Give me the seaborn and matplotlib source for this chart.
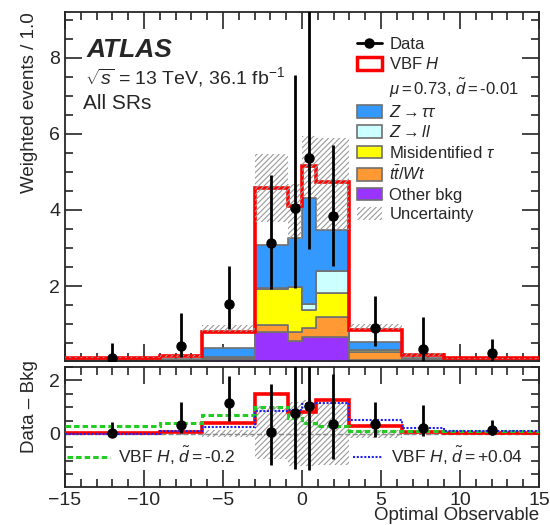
import numpy as np
import pandas as pd
import seaborn as sns
import matplotlib.pyplot as plt
from matplotlib.patches import Patch
from matplotlib.lines import Line2D
from matplotlib.ticker import MultipleLocator

# bin edges of the Optimal Observable
edges = [-15, -9, -6.3, -3, -0.9, 0, 0.9, 3, 6.3, 9, 15]

# background components per bin
z_tautau = [0.02, 0.03, 0.25, 1.13, 1.29, 2.78, 1.07, 0.21, 0.045, 0.03]
z_ll = [0.005, 0.005, 0.01, 0.01, 0.01, 0.18, 0.57, 0.01, 0.005, 0.005]
fakes = [0.015, 0.015, 0.02, 0.96, 1.17, 0.46, 0.63, 0.05, 0.02, 0.015]
top = [0.01, 0.01, 0.02, 0.18, 0.25, 0.24, 0.53, 0.21, 0.02, 0.01]
other = [0.02, 0.02, 0.08, 0.79, 0.55, 0.66, 0.66, 0.06, 0.03, 0.02]

# signal (best fit and two alternatives)
vbf_fit = [0.05, 0.08, 0.41, 1.5, 0.82, 0.82, 1.26, 0.3, 0.08, 0.03]
vbf_dm02 = [0.31, 0.4, 0.69, 0.99, 0.59, 0.4, 0.3, 0.11, 0.125, 0.125]
vbf_dp004 = [0.01, 0.11, 0.27, 0.87, 0.9, 1.1, 1.15, 0.53, 0.21, 0.12]

# data with asymmetric errors
data = [0.12, 0.43, 1.52, 3.13, 4.05, 5.36, 3.84, 0.9, 0.34, 0.23]
data_lo = [0.12, 0.3, 0.66, 1.21, 2.1, 2.4, 1.32, 0.48, 0.3, 0.19]
data_hi = [0.38, 0.85, 1.01, 1.79, 3.5, 4.2, 1.87, 0.85, 0.85, 0.38]

# uncertainty band (top panel, absolute) and bottom panel band
unc_lo = [0.1, 0.13, 0.79, 3.68, 3.24, 4.35, 3.46, 0.84, 0.17, 0.09]
unc_hi = [0.13, 0.19, 0.97, 5.47, 4.68, 5.95, 5.9, 1.0, 0.23, 0.11]
diff_unc_lo = [-0.03, -0.05, -0.12, -0.95, -1.2, -1.2, -1.15, -0.15, -0.05, -0.03]
diff_unc_hi = [0.03, 0.05, 0.15, 1.03, 1.2, 1.25, 1.15, 0.15, 0.05, 0.03]

names = ['ztt', 'zll', 'fake', 'top', 'other']
palette = {'ztt': '#3399ff', 'zll': '#ccffff', 'fake': '#ffff00',
           'top': '#ff9933', 'other': '#9933ff'}

#%%
sns.set_style("ticks")
plt.rcParams['font.family'] = ['Liberation Sans', 'DejaVu Sans']
plt.rcParams['mathtext.fontset'] = 'custom'
plt.rcParams['mathtext.rm'] = 'Liberation Sans'
plt.rcParams['mathtext.it'] = 'Liberation Sans:italic'
plt.rcParams['mathtext.bf'] = 'Liberation Sans:bold'
plt.rcParams['hatch.color'] = '#9a9a9a'
plt.rcParams['hatch.linewidth'] = 0.8

edges_a = np.array(edges)
centers = 0.5 * (edges_a[1:] + edges_a[:-1])
bkg = np.array(z_tautau) + np.array(z_ll) + np.array(fakes) + np.array(top) + np.array(other)
total = bkg + np.array(vbf_fit)

df = pd.DataFrame({
    'x': np.tile(centers, 5),
    'w': np.concatenate([z_tautau, z_ll, fakes, top, other]),
    'proc': np.repeat(names, len(centers)),
})

fig = plt.figure(figsize=(5.5, 5.25), dpi=100)
ax = fig.add_axes([0.1182, 0.3124, 0.8618, 0.6648])
ax2 = fig.add_axes([0.1182, 0.0724, 0.8618, 0.2286])

sns.histplot(data=df, x='x', weights='w', hue='proc', hue_order=names, bins=edges,
             multiple='stack', element='step', palette=palette, alpha=1,
             edgecolor='#707070', linewidth=1.2, legend=False, ax=ax)
ax.stairs(total, edges, baseline=None, color='red', lw=2.6, zorder=3)
ax.stairs(unc_hi, edges, baseline=unc_lo, fill=True, facecolor='none',
          edgecolor='#9a9a9a', hatch='//////', lw=0, zorder=4)
ax.errorbar(centers, data, yerr=[data_lo, data_hi], fmt='o', color='k', ms=6.5,
            elinewidth=2, capsize=0, zorder=6)

ax.set_xlim(-15, 15)
ax.set_ylim(0.03, 9.2)
ax.set_xlabel('')
ax.set_ylabel('Weighted events / 1.0', fontsize=13.5, loc='top')
ax.yaxis.set_label_coords(-0.058, 1.0)
ax.set_xticklabels([])

ax.text(0.046, 0.891, 'ATLAS', transform=ax.transAxes, fontsize=19,
        fontweight='bold', style='italic', va='center')
ax.text(0.042, 0.814, r'$\sqrt{s}$ = 13 TeV, 36.1 fb$^{-1}$', transform=ax.transAxes,
        fontsize=14, va='center')
ax.text(0.038, 0.739, 'All SRs', transform=ax.transAxes, fontsize=15, va='center')

edge_c = '#707070'
handles = [
    Line2D([], [], color='k', marker='o', ms=6.5, lw=2),
    Patch(facecolor='white', edgecolor='red', lw=2.5),
    Line2D([], [], color='none'),
    Patch(facecolor=palette['ztt'], edgecolor=edge_c, lw=1.2),
    Patch(facecolor=palette['zll'], edgecolor=edge_c, lw=1.2),
    Patch(facecolor=palette['fake'], edgecolor=edge_c, lw=1.2),
    Patch(facecolor=palette['top'], edgecolor=edge_c, lw=1.2),
    Patch(facecolor=palette['other'], edgecolor=edge_c, lw=1.2),
    Patch(facecolor='white', edgecolor='#9a9a9a', hatch='//////', lw=0),
]
labels = ['Data', 'VBF $H$', r'$\mu = 0.73$, $\tilde{d} = $-0.01',
          r'$Z \rightarrow \tau\tau$', r'$Z \rightarrow ll$', r'Misidentified $\tau$',
          r'$t\bar{t}/Wt$', 'Other bkg', 'Uncertainty']
ax.legend(handles, labels, loc='upper left', bbox_to_anchor=(0.616, 0.929),
          frameon=False, fontsize=12, handlelength=1.5, handleheight=0.8,
          handletextpad=0.45, labelspacing=0.26, borderpad=0, borderaxespad=0)

# bottom panel
ax2.stairs(diff_unc_hi, edges, baseline=diff_unc_lo, fill=True, facecolor='none',
           edgecolor='#9a9a9a', hatch='//////', lw=0, zorder=1)
ax2.axhline(0, color='#888888', ls='--', lw=1, zorder=2)
ax2.stairs(vbf_fit, edges, baseline=None, color='red', lw=2.6, zorder=3)
ax2.stairs(vbf_dm02, edges, baseline=None, color='#22cc22', lw=2.2,
           ls=(0, (1.8, 1.0)), zorder=4)
ax2.stairs(vbf_dp004, edges, baseline=None, color='#2222ee', lw=1.5,
           ls=(0, (1.0, 0.8)), zorder=4)
ax2.errorbar(centers, np.array(data) - bkg, yerr=[data_lo, data_hi], fmt='o', color='k',
             ms=6.5, elinewidth=2, capsize=0, zorder=6)

leg1 = ax2.legend([Line2D([], [], color='#22cc22', lw=2.2, ls=(0, (1.8, 1.0)))],
                  [r'VBF $H$, $\tilde{d} = $-0.2'], loc='center left',
                  bbox_to_anchor=(0.004, 0.26), frameon=False, fontsize=12.5,
                  handlelength=2.5, handletextpad=0.45, borderpad=0, borderaxespad=0)
ax2.add_artist(leg1)
ax2.legend([Line2D([], [], color='#2222ee', lw=1.5, ls=(0, (1.0, 0.8)))],
           [r'VBF $H$, $\tilde{d} = $+0.04'], loc='center left',
           bbox_to_anchor=(0.608, 0.26), frameon=False, fontsize=12.5,
           handlelength=1.7, handletextpad=0.5, borderpad=0, borderaxespad=0)

ax2.set_xlim(-15, 15)
ax2.set_ylim(-1.98, 2.5)
ax2.set_xlabel('Optimal Observable', fontsize=13.5, loc='right', labelpad=-1)
ax2.set_ylabel('Data – Bkg', fontsize=13.5)
ax2.yaxis.set_label_coords(-0.058, 0.67)

for a, ymaj, ymin in [(ax, 2, 0.5), (ax2, 2, 0.5)]:
    a.xaxis.set_major_locator(MultipleLocator(5))
    a.xaxis.set_minor_locator(MultipleLocator(1))
    a.yaxis.set_major_locator(MultipleLocator(ymaj))
    a.yaxis.set_minor_locator(MultipleLocator(ymin))
    a.tick_params(which='both', direction='in', top=True, right=True, labelsize=14)
    a.tick_params(which='major', length=12, width=1.2)
    a.tick_params(which='minor', length=6, width=1.2)
    for s in a.spines.values():
        s.set_linewidth(1.3)

fig.savefig('out.png', dpi=100)
